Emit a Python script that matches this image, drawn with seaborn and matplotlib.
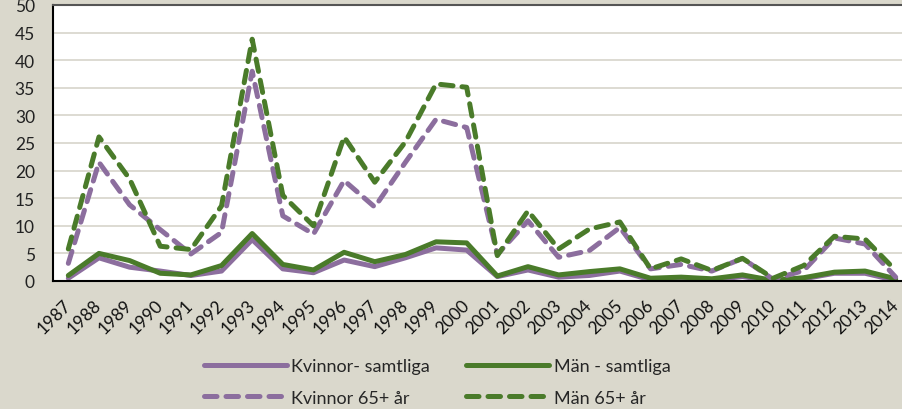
import matplotlib
matplotlib.use("Agg")
import matplotlib.pyplot as plt
import seaborn as sns
import numpy as np
import pandas as pd

years = list(range(1987, 2015))
kvinnor_samtliga = [0.5, 4.2, 2.5, 1.8, 1.0, 1.8, 7.5, 2.2, 1.5, 3.8, 2.6, 4.2, 6.0, 5.6,
                    0.8, 2.0, 0.7, 1.0, 1.8, 0.2, 0.3, 0.2, 0.8, 0.0, 0.4, 1.4, 1.4, 0.1]
man_samtliga = [1.0, 5.0, 3.7, 1.4, 1.1, 2.8, 8.6, 3.0, 2.0, 5.2, 3.5, 4.8, 7.1, 6.9,
                0.9, 2.6, 1.1, 1.7, 2.2, 0.5, 0.7, 0.4, 1.1, 0.1, 0.6, 1.6, 1.8, 0.4]
kvinnor_65 = [3.2, 21.5, 13.8, 9.3, 4.9, 8.8, 38.0, 11.8, 8.5, 18.2, 13.4, 21.5, 29.3, 27.8,
              4.8, 10.9, 4.3, 5.5, 9.7, 2.2, 3.0, 1.8, 4.1, 0.3, 1.9, 7.8, 6.7, 0.7]
man_65 = [5.8, 26.1, 18.5, 6.3, 5.7, 13.6, 43.8, 15.5, 10.0, 26.1, 17.9, 25.2, 35.7, 35.1,
          4.6, 12.7, 5.8, 9.4, 10.7, 2.2, 4.0, 1.9, 4.1, 0.5, 2.8, 8.1, 7.6, 1.9]
labels = ["Kvinnor- samtliga", "Män - samtliga", "Kvinnor 65+ år", "Män 65+ år"]
y_ticks = list(range(0, 55, 5))

purple = "#8C6E9E"
green = "#4A7B2A"
bg = "#DAD8CC"

sns.set_style("white")
plt.rcParams["font.family"] = ["Lato", "DejaVu Sans"]

fig = plt.figure(figsize=(9.03, 4.10), dpi=100, facecolor=bg)
ax = fig.add_axes([53/903, 1 - 282/410, 858/903, 276/410])
ax.set_facecolor("white")

lw = 3.6
dash = (0, (2.5, 1.8))
series = [
    (kvinnor_samtliga, purple, "-", labels[0]),
    (man_samtliga, green, "-", labels[1]),
    (kvinnor_65, purple, dash, labels[2]),
    (man_65, green, dash, labels[3]),
]
for vals, col, ls, lab in series:
    sns.lineplot(x=years, y=vals, ax=ax, color=col, linewidth=lw, linestyle=ls,
                 label=lab, dash_capstyle="round", solid_capstyle="round",
                 solid_joinstyle="round", dash_joinstyle="round")

ax.set_xlim(1986.5, 2014.5)
ax.set_ylim(0, 50)
ax.set_yticks(y_ticks)
ax.set_yticklabels([str(v) for v in y_ticks], fontsize=12.5, color="#222222")
ax.tick_params(axis="y", length=0, pad=13)
ax.yaxis.grid(True, color="#DAD8CF", linewidth=1.3)
ax.set_axisbelow(True)

ax.set_xticks(years)
ax.set_xticklabels([str(y) for y in years], fontsize=12.5, rotation=45,
                   ha="right", va="center", rotation_mode="anchor", color="#111111")
ax.tick_params(axis="x", which="major", length=0, pad=15)
ax.set_xticks([y + 0.5 for y in years[:-1]], minor=True)
ax.tick_params(axis="x", which="minor", direction="in", length=6, width=1, color="black")

for side in ["left", "bottom"]:
    ax.spines[side].set_color("black")
    ax.spines[side].set_linewidth(1.5)
ax.spines["top"].set_color("#555555")
ax.spines["top"].set_linewidth(1.5)
ax.spines["right"].set_visible(False)
ax.set_xlabel("")
ax.set_ylabel("")

ax.legend_.remove()
handles, labs = ax.get_legend_handles_labels()
order = [0, 2, 1, 3]
leg = fig.legend([handles[i] for i in order], [labs[i] for i in order],
                 loc="center", bbox_to_anchor=(437/903, 1 - 383/410), ncol=2,
                 frameon=False, fontsize=13, handlelength=4.6, handletextpad=0.25,
                 columnspacing=2.0, labelspacing=0.85, borderpad=0)

fig.savefig("out.png", dpi=100, facecolor=bg)
